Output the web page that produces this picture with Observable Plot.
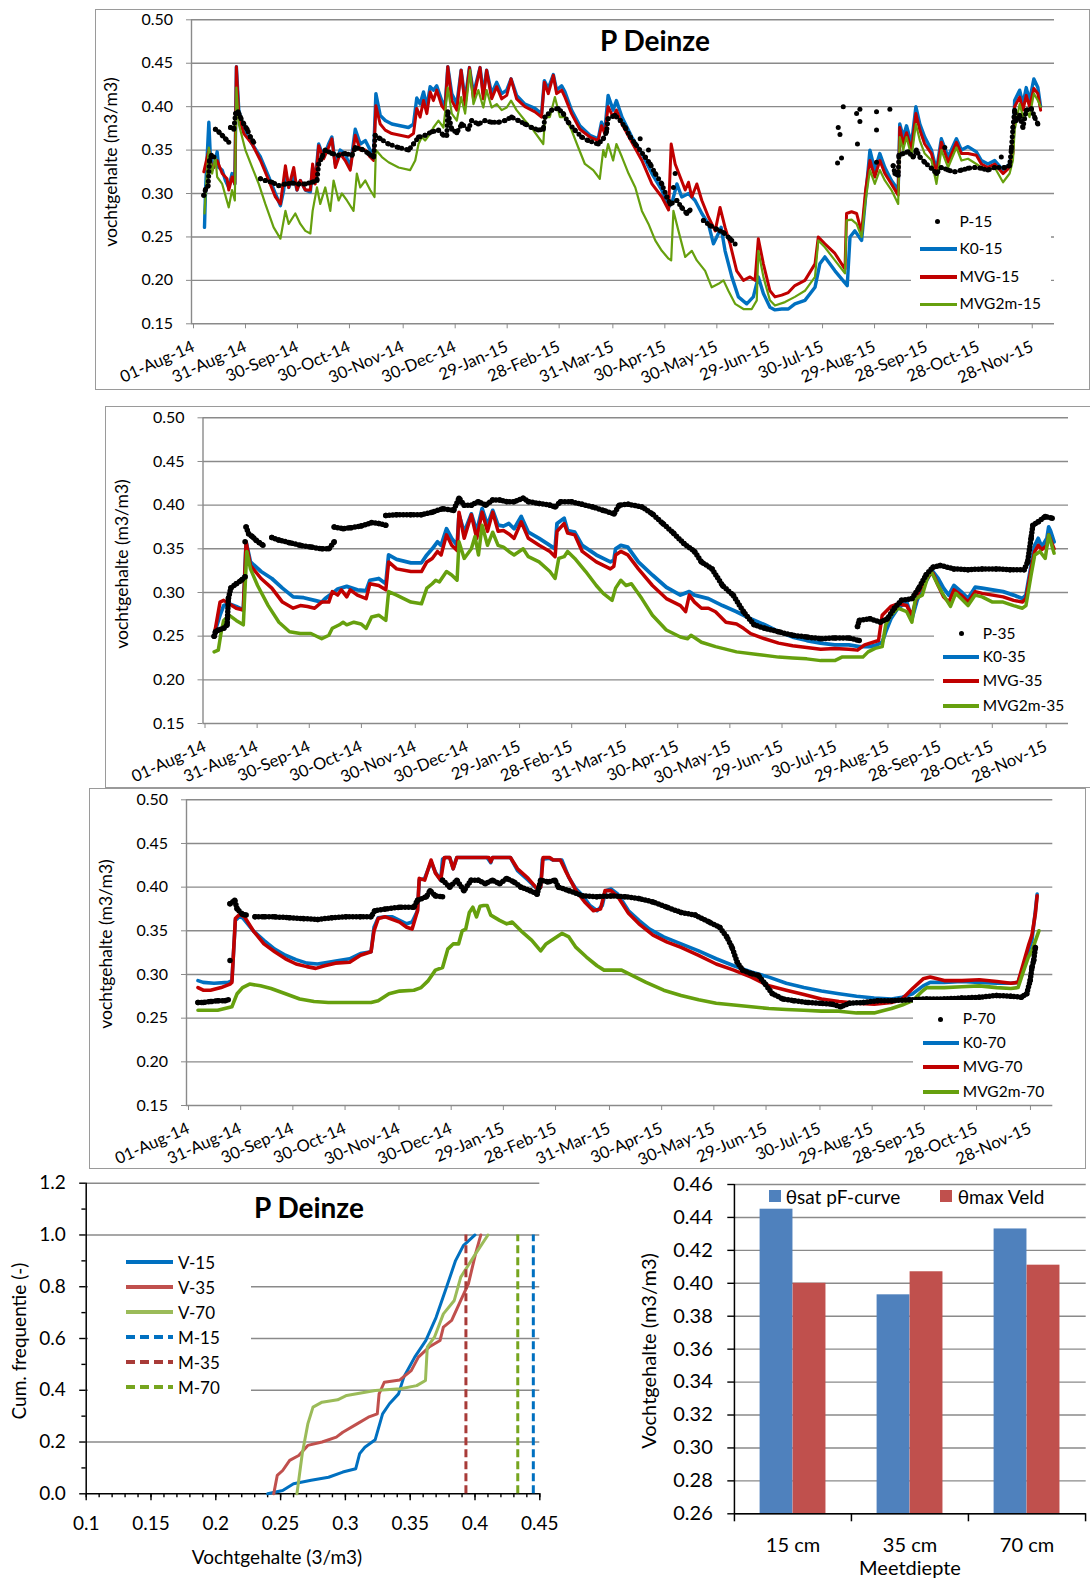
<!DOCTYPE html>
<html><head><meta charset="utf-8">
<script src="https://cdn.jsdelivr.net/npm/d3@7"></script>
<script src="https://cdn.jsdelivr.net/npm/@observablehq/plot@0.6"></script>
<style>
body{margin:0;background:#fff;}
#root{position:relative;width:1090px;height:1580px;overflow:hidden;font-family:Lato,sans-serif;color:#000;background:#fff;}
.box{position:absolute;border:1.5px solid #9a9a9a;box-sizing:border-box;}
.t{position:absolute;transform:translate(-50%,-50%);white-space:nowrap;line-height:1;}
.tl{position:absolute;transform:translate(0,-50%);white-space:nowrap;line-height:1;}
.rot{position:absolute;transform:translate(-50%,-50%) rotate(-90deg);white-space:nowrap;line-height:1;}
.leg{position:absolute;background:#fff;}
.sw{position:absolute;}
</style></head><body><div id="root"></div>
<script>
// ---------------- DATA ----------------
// time series: [days since 01-Aug-2014, value]; null = gap in measured series
const xTickLabels = ["01-Aug-14","31-Aug-14","30-Sep-14","30-Oct-14","30-Nov-14","30-Dec-14","29-Jan-15","28-Feb-15","31-Mar-15","30-Apr-15","30-May-15","29-Jun-15","30-Jul-15","29-Aug-15","28-Sep-15","28-Oct-15","28-Nov-15"];
const yTicksTS = [0.15,0.20,0.25,0.30,0.35,0.40,0.45,0.50];

const k0_15 = [[7.5,0.261],[8.1,0.304],[10.0,0.382],[10.9,0.342],[12.9,0.330],[14.8,0.348],[15.7,0.330],[17.7,0.327],[19.6,0.315],[21.5,0.307],[23.4,0.323],[25.0,0.311],[25.9,0.446],[27.3,0.396],[30.2,0.373],[35.0,0.357],[39.8,0.342],[44.6,0.319],[48.4,0.300],[51.3,0.286],[53.2,0.304],[54.2,0.325],[56.1,0.307],[59.0,0.320],[60.9,0.304],[62.8,0.315],[65.7,0.304],[68.6,0.302],[69.9,0.330],[71.4,0.315],[73.4,0.357],[76.2,0.342],[79.1,0.357],[81.0,0.365],[83.0,0.334],[85.8,0.350],[88.7,0.346],[91.6,0.330],[94.5,0.374],[97.4,0.357],[100.3,0.361],[103.1,0.350],[105.1,0.346],[106.4,0.415],[108.9,0.390],[111.8,0.384],[115.6,0.380],[120.4,0.378],[125.2,0.376],[128.1,0.380],[130.0,0.410],[131.9,0.403],[133.9,0.417],[135.8,0.400],[137.7,0.423],[139.6,0.419],[141.5,0.424],[144.4,0.407],[146.3,0.400],[147.9,0.446],[150.2,0.415],[153.1,0.403],[155.6,0.442],[157.9,0.407],[160.4,0.445],[162.7,0.415],[166.5,0.445],[168.4,0.415],[170.3,0.442],[173.2,0.415],[176.1,0.428],[179.0,0.415],[181.9,0.419],[184.4,0.432],[187.6,0.413],[192.4,0.403],[198.2,0.398],[202.0,0.392],[203.6,0.430],[205.9,0.421],[208.8,0.437],[210.7,0.419],[213.6,0.424],[215.5,0.417],[219.3,0.396],[224.1,0.378],[229.9,0.367],[234.7,0.363],[236.6,0.382],[238.5,0.372],[240.4,0.413],[243.3,0.396],[245.2,0.407],[248.4,0.388],[254.1,0.365],[259.9,0.346],[265.7,0.323],[271.4,0.304],[275.3,0.284],[277.6,0.292],[280.1,0.311],[282.9,0.296],[286.8,0.300],[290.6,0.292],[294.5,0.277],[298.3,0.265],[301.2,0.242],[303.1,0.250],[305.6,0.261],[307.9,0.234],[311.8,0.204],[315.6,0.181],[320.4,0.173],[324.2,0.181],[327.1,0.204],[330.0,0.185],[333.8,0.169],[336.7,0.166],[340.6,0.167],[344.4,0.167],[348.2,0.173],[354.0,0.177],[359.8,0.192],[362.6,0.219],[365.5,0.227],[371.3,0.211],[378.4,0.194],[380.0,0.250],[382.8,0.257],[386.7,0.246],[389.0,0.296],[391.5,0.350],[394.3,0.327],[397.2,0.346],[400.1,0.330],[403.9,0.315],[407.8,0.304],[408.7,0.380],[410.7,0.365],[412.6,0.378],[415.5,0.357],[418.0,0.400],[420.3,0.380],[423.1,0.365],[427.0,0.350],[429.9,0.327],[432.7,0.363],[436.6,0.342],[441.4,0.363],[444.3,0.350],[448.1,0.354],[452.9,0.348],[455.8,0.338],[459.6,0.334],[463.5,0.338],[468.3,0.327],[472.1,0.334],[474.0,0.350],[475.0,0.407],[477.9,0.419],[479.8,0.403],[481.7,0.422],[483.6,0.407],[486.1,0.432],[488.4,0.422],[490.0,0.400]];
const mvg_15 = [[7.1,0.325],[10.0,0.350],[11.9,0.327],[14.8,0.338],[17.7,0.323],[20.5,0.317],[21.5,0.304],[23.4,0.319],[25.0,0.311],[25.9,0.446],[27.3,0.388],[30.2,0.369],[35.0,0.357],[39.8,0.338],[44.6,0.315],[48.4,0.296],[51.3,0.288],[54.2,0.332],[56.1,0.307],[59.0,0.330],[60.9,0.304],[62.8,0.315],[65.7,0.304],[68.6,0.304],[69.9,0.334],[71.4,0.311],[73.4,0.355],[76.2,0.340],[79.1,0.353],[81.0,0.363],[83.0,0.330],[85.8,0.346],[88.7,0.338],[91.6,0.327],[94.5,0.367],[97.4,0.350],[100.3,0.350],[103.1,0.342],[105.1,0.338],[106.4,0.401],[108.9,0.380],[111.8,0.373],[115.6,0.369],[120.4,0.367],[125.2,0.365],[128.1,0.369],[130.0,0.398],[131.9,0.388],[133.9,0.407],[135.8,0.392],[137.7,0.417],[139.6,0.407],[141.5,0.419],[144.4,0.401],[146.3,0.396],[147.9,0.446],[150.2,0.407],[153.1,0.396],[155.6,0.442],[157.9,0.401],[160.4,0.445],[162.7,0.409],[166.5,0.445],[168.4,0.409],[170.3,0.442],[173.2,0.409],[176.1,0.423],[179.0,0.409],[181.9,0.413],[184.4,0.432],[187.6,0.409],[192.4,0.400],[198.2,0.394],[202.0,0.388],[203.6,0.428],[205.9,0.415],[208.8,0.436],[210.7,0.415],[213.6,0.419],[215.5,0.411],[219.3,0.392],[224.1,0.374],[229.9,0.365],[234.7,0.361],[236.6,0.378],[238.5,0.369],[240.4,0.400],[243.3,0.388],[245.2,0.396],[248.4,0.380],[254.1,0.359],[259.9,0.338],[265.7,0.311],[271.4,0.296],[275.3,0.281],[276.8,0.357],[279.1,0.334],[282.0,0.319],[284.9,0.304],[286.8,0.313],[288.7,0.296],[291.6,0.311],[294.5,0.292],[298.3,0.273],[302.2,0.257],[305.0,0.284],[307.9,0.261],[310.8,0.242],[314.6,0.211],[318.5,0.200],[322.3,0.204],[325.2,0.200],[327.1,0.248],[330.0,0.219],[333.8,0.188],[336.7,0.181],[340.6,0.183],[344.4,0.186],[348.2,0.194],[354.0,0.200],[359.8,0.219],[361.7,0.250],[365.5,0.242],[371.3,0.231],[377.1,0.213],[378.0,0.277],[380.9,0.279],[383.8,0.277],[386.7,0.255],[389.0,0.304],[391.5,0.338],[394.3,0.319],[397.2,0.338],[400.1,0.323],[403.9,0.311],[407.8,0.298],[408.7,0.376],[410.7,0.357],[412.6,0.370],[415.5,0.350],[418.0,0.392],[420.3,0.373],[423.1,0.357],[427.0,0.346],[429.9,0.323],[432.7,0.359],[436.6,0.336],[441.4,0.359],[444.3,0.346],[448.1,0.346],[452.9,0.344],[455.8,0.334],[459.6,0.330],[463.5,0.334],[468.3,0.323],[472.1,0.330],[474.0,0.346],[475.0,0.400],[477.9,0.411],[479.8,0.396],[481.7,0.413],[483.6,0.400],[486.1,0.421],[488.4,0.415],[490.0,0.396]];
const mvg2m_15 = [[7.5,0.277],[8.5,0.311],[10.0,0.353],[11.9,0.323],[13.8,0.342],[14.8,0.319],[17.7,0.311],[21.5,0.284],[23.4,0.304],[25.0,0.292],[25.9,0.422],[27.3,0.380],[31.1,0.350],[35.0,0.330],[38.8,0.311],[42.6,0.288],[47.4,0.261],[51.3,0.248],[54.2,0.280],[56.1,0.265],[59.9,0.277],[62.8,0.265],[65.7,0.257],[68.6,0.254],[69.9,0.280],[72.4,0.307],[74.3,0.288],[77.2,0.307],[80.1,0.280],[82.0,0.315],[84.9,0.292],[86.8,0.300],[89.7,0.292],[93.5,0.280],[95.4,0.323],[97.4,0.307],[100.3,0.315],[103.1,0.304],[105.6,0.296],[106.4,0.350],[109.9,0.342],[113.7,0.336],[119.5,0.330],[126.2,0.327],[129.1,0.338],[131.0,0.357],[132.9,0.365],[134.8,0.361],[137.7,0.369],[139.6,0.376],[142.5,0.384],[145.4,0.376],[147.9,0.422],[150.2,0.392],[153.1,0.384],[155.6,0.411],[157.9,0.392],[160.7,0.442],[162.7,0.403],[165.5,0.419],[168.4,0.399],[170.3,0.419],[173.2,0.399],[176.1,0.403],[179.0,0.396],[181.9,0.399],[184.4,0.407],[187.6,0.396],[192.4,0.384],[197.2,0.373],[203.0,0.357],[204.0,0.388],[206.8,0.388],[209.7,0.411],[212.6,0.388],[215.5,0.388],[219.3,0.373],[223.2,0.353],[227.0,0.334],[231.8,0.327],[235.6,0.317],[237.6,0.350],[238.9,0.342],[240.4,0.357],[243.3,0.338],[245.2,0.357],[248.4,0.342],[252.2,0.323],[256.1,0.307],[259.9,0.280],[263.7,0.265],[267.6,0.246],[271.4,0.234],[275.3,0.225],[276.8,0.223],[278.1,0.280],[281.0,0.257],[284.9,0.227],[288.7,0.234],[291.6,0.223],[296.4,0.211],[300.2,0.192],[304.1,0.196],[307.0,0.200],[309.8,0.188],[313.7,0.173],[318.5,0.167],[323.3,0.167],[326.2,0.177],[327.1,0.234],[330.0,0.204],[333.8,0.177],[336.7,0.171],[342.5,0.175],[348.2,0.181],[354.0,0.188],[359.8,0.204],[361.7,0.246],[365.5,0.238],[371.3,0.223],[377.1,0.208],[378.0,0.269],[380.9,0.270],[383.8,0.265],[386.7,0.250],[389.0,0.292],[391.5,0.327],[394.3,0.311],[397.2,0.327],[400.1,0.315],[403.9,0.304],[407.8,0.288],[408.7,0.365],[410.7,0.350],[412.6,0.365],[415.5,0.342],[418.0,0.380],[420.3,0.361],[423.1,0.346],[427.0,0.338],[429.9,0.311],[432.7,0.350],[436.6,0.330],[441.4,0.353],[444.3,0.338],[448.1,0.340],[452.9,0.334],[455.8,0.330],[459.6,0.327],[463.5,0.330],[468.3,0.313],[472.1,0.323],[474.0,0.338],[475.0,0.373],[477.9,0.403],[479.8,0.388],[481.7,0.396],[483.6,0.388],[486.1,0.415],[488.4,0.407],[490.0,0.400]];
const p_15 = [[7.1,0.298],[8.1,0.305],[9.6,0.309],[10.4,0.338],[11.5,0.344],[12.9,0.342],null,[13.8,0.374],[15.7,0.371],[17.7,0.367],[19.6,0.363],[21.5,0.359],null,[22.5,0.376],[24.4,0.374],[25.4,0.392],[26.9,0.394],[28.2,0.388],[30.2,0.380],[32.1,0.374],[34.0,0.365],[35.9,0.359],null,[39.8,0.317],[42.6,0.315],[46.5,0.313],[50.3,0.309],[54.2,0.311],[58.0,0.312],[61.8,0.311],[65.7,0.311],[69.5,0.313],[72.4,0.315],[73.4,0.334],[75.3,0.342],[77.2,0.350],[81.0,0.346],[84.9,0.344],[88.7,0.346],[92.6,0.344],[94.5,0.353],[98.3,0.351],[102.2,0.346],[105.1,0.342],[106.0,0.367],[108.9,0.363],[113.7,0.357],[119.5,0.353],[125.2,0.350],[128.1,0.357],[131.0,0.365],[134.8,0.367],[138.7,0.371],[142.5,0.373],[145.4,0.367],[147.3,0.367],[147.9,0.394],[150.2,0.374],[153.1,0.370],[155.9,0.380],[159.8,0.374],[161.7,0.384],[165.5,0.380],[169.4,0.384],[173.2,0.382],[177.1,0.382],[180.9,0.384],[184.7,0.388],[188.6,0.384],[192.4,0.380],[196.3,0.376],[200.1,0.373],[203.0,0.374],[204.0,0.388],[207.8,0.396],[211.6,0.398],[214.5,0.392],[217.4,0.382],[221.2,0.373],[225.1,0.365],[228.9,0.361],[234.7,0.357],[237.6,0.363],[239.5,0.371],[240.4,0.386],[244.3,0.390],[247.4,0.384],[250.3,0.376],[253.2,0.365],[256.1,0.357],[261.8,0.342],[264.7,0.334],[267.6,0.323],[271.4,0.311],[274.3,0.296],[276.3,0.288],[280.1,0.292],[282.9,0.284],[285.8,0.277],[287.7,0.281],null,[295.4,0.269],[299.3,0.263],[303.1,0.259],[307.0,0.255],[310.8,0.248],[313.7,0.242],null,[404.9,0.332],[405.9,0.323],[407.8,0.321],[408.2,0.344],[410.7,0.346],[413.5,0.348],[416.4,0.342],[418.3,0.350],[420.3,0.342],[423.1,0.336],[427.0,0.329],[429.9,0.323],[432.7,0.330],[436.6,0.327],[440.4,0.325],[444.3,0.327],[448.1,0.329],[452.0,0.330],[455.8,0.329],[459.6,0.327],[463.5,0.330],[469.2,0.330],[472.1,0.332],[473.1,0.351],[474.0,0.376],[475.0,0.396],[476.0,0.384],[477.9,0.390],[479.8,0.376],[481.7,0.396],[484.6,0.398],[486.5,0.388],[488.4,0.380]];
const p_15_single = [[258.9,0.363],[263.7,0.350],[278.1,0.307],[279.1,0.323],[372.8,0.335],[373.2,0.376],[374.2,0.368],[375.1,0.341],[376.1,0.400],[383.8,0.392],[385.7,0.397],[385.7,0.383],[384.3,0.357],[395.3,0.394],[395.3,0.373],[403.0,0.397],[395.3,0.336],[434.7,0.353],[467.3,0.342]];

const k0_35 = [[6.8,0.255],[9.8,0.274],[11.9,0.285],[15.0,0.287],[19.1,0.284],[23.2,0.280],[24.8,0.358],[27.3,0.335],[33.4,0.324],[39.6,0.316],[45.7,0.305],[51.9,0.295],[58.0,0.294],[64.2,0.291],[68.3,0.289],[70.3,0.293],[74.4,0.299],[77.5,0.304],[82.7,0.307],[88.8,0.303],[93.9,0.302],[96.0,0.314],[101.1,0.316],[105.2,0.310],[106.8,0.343],[111.4,0.338],[119.6,0.334],[125.7,0.334],[128.8,0.343],[131.9,0.350],[134.9,0.358],[137.0,0.354],[140.1,0.373],[143.1,0.362],[146.2,0.354],[147.3,0.389],[150.3,0.369],[154.4,0.390],[157.5,0.370],[160.6,0.396],[163.7,0.377],[166.7,0.394],[169.8,0.377],[172.9,0.376],[176.0,0.379],[179.0,0.373],[183.1,0.387],[187.2,0.369],[193.4,0.362],[199.6,0.354],[202.6,0.350],[203.7,0.379],[207.8,0.385],[209.8,0.371],[213.9,0.369],[218.2,0.354],[226.3,0.343],[234.4,0.335],[236.4,0.337],[237.4,0.350],[240.4,0.354],[244.4,0.352],[250.5,0.335],[258.6,0.320],[266.6,0.306],[274.7,0.297],[279.8,0.301],[282.8,0.297],[290.8,0.293],[298.9,0.285],[307.0,0.278],[315.1,0.270],[323.2,0.263],[331.2,0.255],[339.3,0.249],[347.4,0.245],[355.4,0.242],[363.5,0.240],[371.6,0.240],[377.6,0.238],[383.7,0.238],[387.7,0.240],[390.8,0.243],[392.8,0.255],[395.8,0.270],[399.8,0.282],[404.9,0.289],[407.9,0.270],[410.9,0.291],[413.9,0.305],[418.0,0.320],[420.0,0.324],[423.0,0.316],[426.1,0.305],[429.1,0.297],[432.1,0.308],[436.2,0.301],[440.2,0.293],[444.3,0.306],[448.3,0.305],[454.3,0.303],[460.4,0.301],[466.4,0.297],[471.5,0.293],[473.5,0.297],[476.5,0.331],[478.6,0.354],[480.6,0.362],[482.6,0.352],[485.6,0.362],[486.6,0.375],[487.6,0.371],[489.7,0.358]];
const mvg_35 = [[6.8,0.255],[9.8,0.289],[11.9,0.291],[15.0,0.287],[19.1,0.282],[23.2,0.280],[24.8,0.358],[27.3,0.331],[33.4,0.316],[39.6,0.305],[45.7,0.289],[51.9,0.282],[56.0,0.285],[60.1,0.284],[64.2,0.282],[68.3,0.289],[72.4,0.289],[74.4,0.301],[77.5,0.297],[79.6,0.303],[82.7,0.295],[84.7,0.303],[88.8,0.297],[93.9,0.293],[96.0,0.310],[101.1,0.308],[105.2,0.303],[106.8,0.335],[111.4,0.327],[119.6,0.324],[125.7,0.324],[128.8,0.335],[131.9,0.339],[134.9,0.347],[137.0,0.343],[140.1,0.366],[143.1,0.354],[146.2,0.348],[147.3,0.392],[150.3,0.362],[154.4,0.389],[157.5,0.362],[160.6,0.392],[163.7,0.370],[166.7,0.392],[169.8,0.370],[172.9,0.371],[176.0,0.367],[179.0,0.362],[183.1,0.381],[187.2,0.362],[193.4,0.354],[199.6,0.347],[202.6,0.341],[203.7,0.370],[207.8,0.379],[209.8,0.368],[213.9,0.366],[218.2,0.347],[226.3,0.335],[234.4,0.327],[236.4,0.330],[237.4,0.343],[240.4,0.347],[244.4,0.343],[250.5,0.327],[258.6,0.308],[266.6,0.293],[274.7,0.285],[277.7,0.278],[279.8,0.297],[282.8,0.289],[286.8,0.282],[290.8,0.282],[294.9,0.278],[300.9,0.266],[307.0,0.264],[311.0,0.259],[315.1,0.253],[323.2,0.247],[331.2,0.242],[339.3,0.239],[347.4,0.237],[355.4,0.235],[363.5,0.236],[371.6,0.235],[376.6,0.234],[380.7,0.240],[388.7,0.245],[390.8,0.274],[392.8,0.278],[395.8,0.284],[399.8,0.287],[404.9,0.285],[407.9,0.274],[410.9,0.297],[413.9,0.308],[418.0,0.320],[420.0,0.322],[423.0,0.308],[426.1,0.295],[429.1,0.289],[432.1,0.303],[436.2,0.297],[440.2,0.289],[444.3,0.301],[448.3,0.299],[454.3,0.297],[460.4,0.295],[466.4,0.291],[471.5,0.289],[473.5,0.293],[476.5,0.327],[478.6,0.347],[480.6,0.354],[482.6,0.349],[485.6,0.354],[486.6,0.366],[489.7,0.350]];
const mvg2m_35 = [[6.4,0.232],[8.8,0.234],[10.5,0.255],[11.9,0.268],[15.0,0.274],[19.1,0.268],[23.2,0.263],[25.2,0.347],[27.3,0.327],[31.4,0.308],[37.5,0.285],[43.7,0.266],[49.8,0.255],[56.0,0.253],[62.1,0.253],[68.3,0.247],[72.4,0.251],[74.4,0.259],[78.5,0.263],[80.6,0.266],[82.7,0.263],[86.8,0.266],[90.9,0.264],[93.9,0.259],[97.0,0.272],[101.1,0.274],[105.2,0.268],[106.8,0.301],[111.4,0.297],[119.6,0.289],[125.7,0.287],[128.8,0.305],[131.9,0.310],[133.9,0.314],[136.0,0.312],[140.1,0.324],[143.1,0.320],[146.2,0.314],[147.3,0.358],[150.3,0.339],[154.4,0.350],[156.5,0.364],[158.5,0.343],[160.6,0.377],[163.7,0.354],[166.7,0.369],[169.8,0.354],[172.9,0.352],[176.0,0.347],[179.0,0.343],[184.2,0.350],[187.2,0.341],[193.4,0.335],[199.6,0.324],[202.6,0.316],[204.7,0.339],[207.8,0.341],[209.8,0.347],[213.9,0.339],[220.2,0.324],[226.3,0.308],[230.3,0.299],[235.4,0.291],[237.4,0.305],[240.4,0.314],[243.4,0.308],[246.5,0.310],[252.5,0.293],[258.6,0.274],[266.6,0.257],[274.7,0.249],[278.8,0.247],[280.8,0.251],[286.8,0.243],[294.9,0.238],[307.0,0.232],[319.1,0.229],[331.2,0.226],[339.3,0.225],[347.4,0.224],[355.4,0.222],[363.5,0.222],[367.6,0.226],[379.7,0.226],[382.7,0.232],[386.7,0.236],[390.8,0.238],[392.8,0.263],[395.8,0.274],[399.8,0.282],[404.9,0.278],[407.9,0.266],[409.9,0.293],[413.9,0.297],[417.0,0.318],[419.0,0.324],[423.0,0.308],[426.1,0.297],[430.1,0.284],[433.1,0.299],[436.2,0.293],[440.2,0.285],[444.3,0.297],[448.3,0.295],[454.3,0.289],[460.4,0.289],[466.4,0.285],[471.5,0.282],[473.5,0.285],[476.5,0.320],[478.6,0.343],[481.6,0.347],[484.6,0.339],[486.6,0.366],[489.7,0.345]];
const p_35 = [[6.4,0.250],[7.2,0.255],[8.8,0.257],[11.9,0.259],[13.9,0.263],[14.6,0.293],[16.0,0.305],[19.1,0.310],[22.1,0.314],[24.2,0.318],null,[24.8,0.375],[26.3,0.367],[28.3,0.364],[30.4,0.360],[32.4,0.357],[34.5,0.354],null,[39.6,0.363],[43.7,0.360],[49.8,0.357],[56.0,0.354],[62.1,0.352],[68.3,0.350],[72.4,0.350],[75.5,0.358],null,[75.5,0.375],[80.6,0.373],[84.7,0.374],[90.9,0.376],[97.0,0.380],[101.1,0.379],[105.2,0.377],null,[105.2,0.388],[111.4,0.389],[119.6,0.389],[125.7,0.389],[131.9,0.392],[138.0,0.396],[144.2,0.394],[147.3,0.408],[150.3,0.400],[154.4,0.400],[158.5,0.404],[162.6,0.400],[166.7,0.406],[170.8,0.406],[174.9,0.404],[179.0,0.404],[184.2,0.408],[187.2,0.404],[193.4,0.402],[199.6,0.400],[202.6,0.398],[205.7,0.404],[211.9,0.404],[218.0,0.401],[224.2,0.398],[230.3,0.394],[236.5,0.390],[239.5,0.400],[244.7,0.401],[252.5,0.398],[258.6,0.390],[264.6,0.379],[270.7,0.368],[276.7,0.356],[282.8,0.347],[286.8,0.335],[292.9,0.327],[298.9,0.308],[305.0,0.297],[311.0,0.278],[317.1,0.263],[323.2,0.259],[331.2,0.255],[339.3,0.251],[347.4,0.249],[355.4,0.247],[363.5,0.248],[371.6,0.248],[377.6,0.245],null,[376.6,0.261],[377.6,0.268],[383.7,0.270],[389.8,0.266],[393.8,0.270],[397.8,0.282],[401.9,0.291],[407.9,0.293],[411.9,0.305],[416.0,0.320],[420.0,0.329],[424.1,0.331],[432.1,0.327],[440.2,0.326],[448.3,0.327],[456.4,0.327],[464.4,0.326],[472.5,0.326],[474.5,0.335],[477.5,0.377],[480.6,0.381],[484.6,0.387],[488.6,0.385]];
const p_35_single = [[24.2,0.358],[476.5,0.362]];

const k0_70 = [[6.6,0.293],[9.6,0.291],[15.8,0.290],[24.0,0.291],[26.1,0.293],[28.1,0.362],[30.2,0.366],[32.2,0.365],[38.4,0.350],[44.5,0.339],[50.7,0.329],[56.9,0.322],[63.0,0.317],[69.2,0.313],[75.3,0.312],[81.5,0.314],[87.6,0.316],[93.8,0.318],[100.0,0.324],[106.1,0.326],[107.8,0.354],[110.2,0.365],[114.3,0.366],[118.4,0.366],[122.5,0.362],[126.6,0.358],[129.7,0.360],[132.8,0.373],[133.8,0.408],[136.9,0.410],[140.6,0.429],[143.1,0.417],[146.1,0.408],[147.2,0.432],[149.2,0.434],[151.3,0.434],[153.3,0.421],[155.4,0.434],[158.5,0.434],[167.7,0.434],[172.8,0.434],[174.9,0.428],[175.9,0.434],[186.2,0.434],[190.3,0.419],[196.4,0.408],[201.6,0.398],[203.6,0.400],[204.6,0.432],[208.7,0.433],[210.8,0.431],[215.8,0.431],[219.8,0.411],[223.9,0.398],[227.9,0.390],[231.9,0.379],[236.0,0.373],[239.0,0.379],[241.0,0.396],[244.0,0.398],[248.0,0.392],[254.1,0.373],[260.1,0.362],[266.2,0.352],[274.3,0.343],[284.3,0.335],[294.4,0.327],[304.5,0.318],[314.6,0.310],[324.7,0.303],[334.8,0.297],[344.8,0.290],[354.9,0.285],[365.0,0.281],[375.1,0.278],[385.2,0.275],[395.3,0.273],[405.3,0.272],[411.4,0.274],[417.4,0.278],[423.5,0.287],[427.5,0.291],[435.6,0.291],[445.7,0.292],[455.8,0.291],[465.8,0.290],[473.9,0.290],[478.0,0.291],[481.0,0.308],[484.0,0.327],[486.0,0.339],[488.0,0.373],[489.0,0.392]];
const mvg_70 = [[6.6,0.285],[9.6,0.282],[13.8,0.282],[19.9,0.285],[25.0,0.289],[26.1,0.291],[28.1,0.364],[30.6,0.369],[33.3,0.366],[38.4,0.350],[44.5,0.335],[50.7,0.326],[56.9,0.318],[63.0,0.312],[69.2,0.309],[74.3,0.307],[79.4,0.310],[85.6,0.313],[93.8,0.314],[100.0,0.322],[106.1,0.326],[107.8,0.350],[110.2,0.364],[114.3,0.366],[122.5,0.360],[126.6,0.354],[129.7,0.352],[132.8,0.373],[133.8,0.410],[136.9,0.408],[140.6,0.431],[143.1,0.416],[146.1,0.408],[148.2,0.434],[151.3,0.434],[153.3,0.421],[155.4,0.434],[159.5,0.434],[167.7,0.434],[173.8,0.434],[174.9,0.429],[176.0,0.434],[186.2,0.434],[190.3,0.421],[196.4,0.410],[201.6,0.398],[203.6,0.400],[205.0,0.434],[208.7,0.434],[210.8,0.431],[214.9,0.431],[217.8,0.419],[223.9,0.396],[228.9,0.383],[233.9,0.373],[238.0,0.375],[240.6,0.396],[244.0,0.396],[248.0,0.389],[254.1,0.370],[260.1,0.358],[268.2,0.345],[276.3,0.337],[284.3,0.331],[294.4,0.322],[304.5,0.312],[314.6,0.305],[324.7,0.297],[334.8,0.287],[344.8,0.282],[354.9,0.277],[365.0,0.272],[375.1,0.269],[385.2,0.267],[395.3,0.266],[405.3,0.268],[411.4,0.272],[417.4,0.284],[423.5,0.295],[427.5,0.297],[435.6,0.293],[445.7,0.293],[455.8,0.294],[465.8,0.292],[473.9,0.290],[478.0,0.291],[481.0,0.312],[484.0,0.333],[486.0,0.345],[488.0,0.370],[489.0,0.390]];
const mvg2m_70 = [[6.6,0.259],[11.7,0.259],[17.9,0.259],[22.0,0.261],[26.1,0.263],[29.1,0.278],[32.2,0.285],[36.3,0.289],[42.5,0.287],[48.6,0.284],[56.9,0.278],[65.1,0.272],[73.3,0.269],[81.5,0.268],[89.7,0.268],[97.9,0.268],[106.1,0.268],[110.2,0.270],[116.4,0.278],[122.5,0.281],[130.7,0.282],[134.9,0.285],[139.0,0.293],[143.1,0.305],[147.2,0.308],[150.2,0.329],[153.3,0.335],[156.4,0.335],[158.5,0.350],[160.5,0.352],[162.6,0.371],[164.6,0.377],[166.7,0.366],[168.7,0.378],[170.8,0.379],[172.8,0.379],[174.9,0.368],[180.0,0.362],[184.1,0.358],[187.2,0.360],[192.3,0.350],[198.5,0.339],[203.6,0.327],[206.7,0.335],[209.7,0.339],[215.8,0.347],[219.8,0.343],[223.9,0.331],[229.9,0.320],[236.0,0.310],[240.0,0.305],[250.1,0.305],[256.1,0.299],[264.2,0.291],[274.3,0.282],[284.3,0.276],[294.4,0.271],[304.5,0.267],[314.6,0.265],[324.7,0.263],[334.8,0.261],[344.8,0.260],[354.9,0.259],[365.0,0.258],[375.1,0.258],[385.2,0.256],[395.3,0.256],[401.3,0.259],[405.3,0.261],[411.4,0.265],[417.4,0.270],[422.5,0.280],[425.5,0.285],[435.6,0.285],[445.7,0.286],[455.8,0.287],[465.8,0.285],[473.9,0.284],[478.0,0.285],[481.0,0.303],[484.0,0.320],[486.0,0.327],[490.0,0.350]];
const p_70 = [[6.6,0.268],[9.6,0.268],[13.8,0.269],[17.9,0.270],[22.0,0.270],[24.0,0.271],null,[25.0,0.381],[27.7,0.385],[29.1,0.375],[32.2,0.369],[34.3,0.368],null,[39.4,0.366],[44.5,0.366],[50.7,0.366],[58.9,0.365],[67.1,0.364],[75.3,0.363],[83.5,0.365],[91.7,0.366],[100.0,0.366],[106.1,0.366],[108.2,0.373],[114.3,0.375],[122.5,0.377],[130.7,0.377],[132.8,0.385],[137.9,0.389],[140.0,0.396],[143.1,0.390],[147.2,0.389],null,[147.2,0.408],[151.3,0.400],[155.4,0.408],[159.5,0.396],[163.6,0.408],[167.7,0.408],[171.8,0.404],[175.9,0.408],[180.0,0.404],[184.1,0.410],[188.2,0.406],[192.3,0.400],[197.5,0.396],[201.6,0.392],[203.6,0.408],[207.7,0.406],[211.8,0.408],[213.8,0.400],[219.8,0.396],[227.9,0.390],[236.0,0.389],[244.0,0.390],[252.1,0.389],[260.1,0.387],[268.2,0.383],[276.3,0.377],[284.3,0.371],[292.4,0.368],[300.5,0.360],[306.5,0.354],[310.6,0.343],[313.6,0.331],[316.6,0.314],[319.6,0.305],[324.7,0.301],[328.7,0.299],[332.7,0.289],[336.8,0.278],[342.8,0.272],[348.9,0.270],[357.0,0.268],[365.0,0.267],[371.1,0.266],[376.1,0.263],[381.1,0.267],[389.2,0.268],[397.3,0.270],[405.3,0.270],[415.4,0.271],[425.5,0.272],[435.6,0.272],[445.7,0.273],[455.8,0.274],[465.8,0.276],[473.9,0.275],[480.0,0.274],[483.0,0.278],[485.0,0.293],[486.0,0.308],[487.0,0.316],[488.0,0.331]];
const p_70_single = [[25.0,0.316]];

// cumulative frequency curves: [vochtgehalte, cum. frequentie]
const v15 = [[0.240,0],[0.2516,0.013],[0.260,0.039],[0.2736,0.052],[0.287,0.064],[0.298,0.084],[0.308,0.097],[0.311,0.155],[0.315,0.180],[0.323,0.209],[0.3287,0.309],[0.334,0.348],[0.341,0.386],[0.345,0.450],[0.3535,0.528],[0.362,0.592],[0.370,0.682],[0.378,0.798],[0.385,0.901],[0.391,0.959],[0.400,1.0]];
const v35 = [[0.2447,0],[0.2474,0.071],[0.2516,0.090],[0.257,0.129],[0.264,0.148],[0.271,0.187],[0.282,0.200],[0.293,0.219],[0.298,0.238],[0.309,0.270],[0.3177,0.296],[0.3246,0.309],[0.326,0.386],[0.330,0.431],[0.342,0.440],[0.3508,0.476],[0.3563,0.528],[0.3646,0.567],[0.373,0.592],[0.3756,0.644],[0.382,0.670],[0.389,0.747],[0.3949,0.811],[0.4004,0.927],[0.4045,1.0]];
const v70 = [[0.2626,0],[0.2667,0.155],[0.271,0.270],[0.275,0.335],[0.282,0.354],[0.294,0.363],[0.301,0.380],[0.323,0.399],[0.3425,0.406],[0.355,0.418],[0.3618,0.438],[0.3632,0.567],[0.3687,0.605],[0.3756,0.695],[0.384,0.747],[0.389,0.837],[0.4004,0.927],[0.410,1.0]];

// bar chart
const depths = ["15 cm","35 cm","70 cm"];
const thetaSat = [0.445, 0.393, 0.433];   // θsat pF-curve (also M-15, M-35, M-70)
const thetaMax = [0.400, 0.407, 0.411];   // θmax Veld
const barSeries = ["θsat pF-curve","θmax Veld"];

// ---------------- STYLE ----------------
const BLUE = "#0070C0", RED = "#C00000", GREEN = "#66A00E", GRID = "#8a8a8a";
const root = document.getElementById("root");
function el(tag, cls, css, text) {
  const e = document.createElement(tag);
  if (cls) e.className = cls;
  Object.assign(e.style, css);
  if (text != null) e.textContent = text;
  root.appendChild(e);
  return e;
}
function px(v){return v+"px";}
function placeSvg(svg, left, top) {
  svg.style.position = "absolute"; svg.style.left = px(left); svg.style.top = px(top);
  root.appendChild(svg);
}

const start = Date.UTC(2014, 7, 1);
const rows = arr => arr.map(e => e ? {date: new Date(start + e[0]*864e5), v: e[1]} : {date: null, v: null});
const tickDates = xTickLabels.map(d3.utcParse("%d-%b-%y"));
const xDomain = [new Date(start), new Date(Date.UTC(2015, 11, 12))];

function tsPlot(c) {
  const [kw, mw, gw] = c.widths;
  return Plot.plot({
    width: c.W, height: c.H, marginLeft: c.ml, marginRight: c.mr, marginTop: c.mt, marginBottom: c.mb,
    style: {background: "transparent", fontFamily: "Lato, sans-serif", fontSize: "16px", color: "#000", overflow: "visible"},
    x: {type: "utc", domain: xDomain, label: null},
    y: {domain: [0.15, 0.5], label: null},
    marks: [
      Plot.gridY(yTicksTS, {stroke: GRID, strokeOpacity: 1, strokeWidth: 1.4}),
      Plot.ruleX([xDomain[0]], {stroke: GRID, strokeWidth: 1.4}),
      Plot.axisY(yTicksTS, {tickFormat: d3.format(".2f"), tickSize: 5, tickPadding: 13.5, stroke: GRID, fontSize: 16, label: null}),
      Plot.axisX(tickDates, {tickFormat: d3.utcFormat("%d-%b-%y"), tickRotate: -24, tickSize: 5, tickPadding: 17, dx: 2, stroke: GRID, fontSize: 16.5, label: null}),
      Plot.line(rows(c.k), {x: "date", y: "v", stroke: BLUE, strokeWidth: kw, strokeLinejoin: "round"}),
      Plot.line(rows(c.m), {x: "date", y: "v", stroke: RED, strokeWidth: mw, strokeLinejoin: "round"}),
      Plot.line(rows(c.g), {x: "date", y: "v", stroke: GREEN, strokeWidth: gw, strokeLinejoin: "round"}),
      Plot.line(rows(c.p), {x: "date", y: "v", stroke: "#000", strokeWidth: c.pw, strokeDasharray: c.dash, strokeLinecap: "round"}),
      Plot.dot(rows(c.p).concat(rows(c.ps)), {x: "date", y: "v", r: c.pw/2, fill: "#000"})
    ]
  });
}

function tsLegend(c) {
  el("div", "leg", {left: px(c.box[0]), top: px(c.box[1]), width: px(c.box[2]), height: px(c.box[3])});
  const items = [
    {label: c.names[0], dot: true},
    {label: c.names[1], color: BLUE, w: c.lw[0]},
    {label: c.names[2], color: RED, w: c.lw[1]},
    {label: c.names[3], color: GREEN, w: c.lw[2]}
  ];
  items.forEach((it, i) => {
    const y = c.ys[i];
    if (it.dot) el("div", "sw", {left: px(c.dotX - 2.5), top: px(y - 2.5), width: "5px", height: "5px", borderRadius: "50%", background: "#000"});
    else el("div", "sw", {left: px(c.lineX[0]), top: px(y - it.w/2), width: px(c.lineX[1]-c.lineX[0]), height: px(it.w), background: it.color});
    el("div", "tl", {left: px(c.textX), top: px(y), fontSize: px(c.fs)}, it.label);
  });
}

// ---------- Panel 1 ----------
el("div", "box", {left: "95px", top: "9px", width: "995px", height: "381px"});
placeSvg(tsPlot({W: 994, H: 379, ml: 95, mr: 36, mt: 9.3, mb: 65.7, k: k0_15, m: mvg_15, g: mvg2m_15, p: p_15, ps: p_15_single, widths: [3.4, 3, 2.2], pw: 5, dash: "0 5"}), 96, 10);
el("div", "t", {left: "655px", top: "40px", fontSize: "28px", fontWeight: "bold"}, "P Deinze");
el("div", "rot", {left: "111px", top: "162px", fontSize: "17.5px"}, "vochtgehalte (m3/m3)");
tsLegend({box: [911, 206, 140, 112], names: ["P-15","K0-15","MVG-15","MVG2m-15"], ys: [221.7, 249.3, 276.7, 304], dotX: 937.5, lineX: [919.6, 957.5], textX: 959.5, lw: [4, 4, 3], fs: 15.5});

// ---------- Panel 2 ----------
el("div", "box", {left: "105px", top: "406px", width: "1000px", height: "382px"});
placeSvg(tsPlot({W: 984, H: 379, ml: 96.5, mr: 22, mt: 10.3, mb: 63, k: k0_35, m: mvg_35, g: mvg2m_35, p: p_35, ps: p_35_single, widths: [3.8, 3.5, 3.5], pw: 5.5, dash: "0 3.5"}), 106, 407);
el("div", "rot", {left: "121.5px", top: "564px", fontSize: "17.5px"}, "vochtgehalte (m3/m3)");
tsLegend({box: [934, 619, 134, 100], names: ["P-35","K0-35","MVG-35","MVG2m-35"], ys: [633.7, 657.3, 681.3, 706.3], dotX: 961, lineX: [942.8, 978.6], textX: 982.8, lw: [4, 4, 4], fs: 15.5});

// ---------- Panel 3 ----------
el("div", "box", {left: "89px", top: "788px", width: "997px", height: "381px"});
placeSvg(tsPlot({W: 995, H: 379, ml: 96, mr: 32.7, mt: 10.3, mb: 63, k: k0_70, m: mvg_70, g: mvg2m_70, p: p_70, ps: p_70_single, widths: [3.6, 3.6, 3.6], pw: 5.5, dash: "0 3.5"}), 90, 789);
el("div", "rot", {left: "105.7px", top: "944px", fontSize: "17.5px"}, "vochtgehalte (m3/m3)");
tsLegend({box: [913, 1000, 140, 102], names: ["P-70","K0-70","MVG-70","MVG2m-70"], ys: [1019, 1043.3, 1067.3, 1091.7], dotX: 940, lineX: [922.5, 959.3], textX: 962.8, lw: [4, 4, 4], fs: 15.5});

// ---------- Panel 4: cumulative frequency ----------
const C_V = ["#0070C0", "#C0504D", "#9BBB59"];
const C_M = ["#0070C0", "#A83B38", "#76A51F"];
const cdfRows = [v15, v35, v70].flatMap((arr, i) => arr.map(([x, y]) => ({s: i, x, y})));
const mRows = thetaSat.map((x, i) => ({s: i, x}));
const cdfPlot = Plot.plot({
  width: 560, height: 408, marginLeft: 85.7, marginRight: 20.7, marginTop: 10.7, marginBottom: 86.7,
  style: {background: "transparent", fontFamily: "Lato, sans-serif", fontSize: "19px", color: "#000", overflow: "visible"},
  x: {domain: [0.1, 0.45], label: null},
  y: {domain: [0, 1.2], label: null},
  marks: [
    Plot.ruleY([0.2, 0.4, 0.6, 0.8, 1.0, 1.2], {stroke: GRID, strokeWidth: 1.4}),
    Plot.axisY([0, 0.2, 0.4, 0.6, 0.8, 1.0, 1.2], {tickFormat: d3.format(".1f"), tickSize: 6.5, tickPadding: 14, stroke: "#000", strokeWidth: 1.4, fontSize: 19, label: null}),
    Plot.axisY([0.1, 0.3, 0.5, 0.7, 0.9, 1.1], {tickFormat: () => "", tickSize: 4.3, stroke: "#000", strokeWidth: 1.4, label: null}),
    Plot.axisX([0.1, 0.15, 0.2, 0.25, 0.3, 0.35, 0.4, 0.45], {tickFormat: d => String(+d.toFixed(2)), tickSize: 7, tickPadding: 16, stroke: "#000", strokeWidth: 1.4, fontSize: 19, label: null}),
    Plot.axisX(d3.range(10, 46).map(d => d / 100), {tickFormat: () => "", tickSize: 4, stroke: "#000", strokeWidth: 1.4, label: null}),
    Plot.ruleX([0.1], {stroke: "#000", strokeWidth: 1.5}),
    Plot.ruleY([0], {stroke: "#000", strokeWidth: 1.5}),
    Plot.line(cdfRows, {x: "x", y: "y", z: "s", stroke: d => C_V[d.s], strokeWidth: 3, strokeLinejoin: "round"}),
    Plot.ruleX(mRows, {x: "x", y1: 0, y2: 1.0, stroke: d => C_M[d.s], strokeWidth: 3, strokeDasharray: "8 4"})
  ]
});
placeSvg(cdfPlot, 0, 1172);
el("div", "t", {left: "309px", top: "1207px", fontSize: "28px", fontWeight: "bold"}, "P Deinze");
el("div", "rot", {left: "18px", top: "1341px", fontSize: "19px"}, "Cum. frequentie (-)");
el("div", "t", {left: "277px", top: "1556px", fontSize: "19px"}, "Vochtgehalte (3/m3)");
{
  el("div", "leg", {left: "88px", top: "1244px", width: "163px", height: "154px"});
  const names = ["V-15","V-35","V-70","M-15","M-35","M-70"];
  const ys = [1261.7, 1286.7, 1311.7, 1336.7, 1361.7, 1386.7];
  names.forEach((n, i) => {
    const col = i < 3 ? C_V[i] : C_M[i - 3];
    if (i < 3) el("div", "sw", {left: "125.7px", top: px(ys[i] - 2), width: "47.5px", height: "4px", background: col});
    else el("div", "sw", {left: "125.7px", top: px(ys[i] - 2), width: "47.5px", height: "4px", background: `repeating-linear-gradient(90deg, ${col} 0 9px, transparent 9px 14px)`});
    el("div", "tl", {left: "178px", top: px(ys[i]), fontSize: "17px"}, n);
  });
}

// ---------- Panel 5: bars ----------
const barRows = depths.flatMap((d, i) => [{depth: d, s: 0, v: thetaSat[i]}, {depth: d, s: 1, v: thetaMax[i]}]);
const yBarTicks = d3.range(26, 47, 2).map(d => d / 100);
const yMin = 0.26;
const bw = (1085.7 - 734.3) / 3;
const barPlotH = 408 - 12 - 66.7;
const barPlot = Plot.plot({
  width: 470, height: 408, marginLeft: 114.3, marginRight: 4.3, marginTop: 12, marginBottom: 66.7,
  style: {background: "transparent", fontFamily: "Lato, sans-serif", fontSize: "19px", color: "#000", overflow: "visible"},
  x: {domain: depths, padding: 0, label: null},
  y: {domain: [yMin, 0.46], label: null},
  marks: [
    Plot.gridY(yBarTicks, {stroke: GRID, strokeOpacity: 1, strokeWidth: 1.4}),
    Plot.barY(barRows.filter(d => d.s === 0), {x: "depth", y1: yMin, y2: "v", fill: "#4F81BD", insetLeft: 25.6, insetRight: bw - 25.6 - 33}),
    Plot.barY(barRows.filter(d => d.s === 1), {x: "depth", y1: yMin, y2: "v", fill: "#C0504D", insetLeft: 25.6 + 33, insetRight: bw - 25.6 - 66}),
    Plot.ruleX([depths[0]], {x: d => d, dx: -bw / 2, stroke: "#000", strokeWidth: 1.5}),
    Plot.ruleY([yMin], {stroke: "#000", strokeWidth: 1.5}),
    Plot.ruleX(depths, {x: d => d, dx: -bw / 2, insetTop: barPlotH, insetBottom: -8, stroke: "#000", strokeWidth: 1.5}),
    Plot.ruleX([depths[2]], {x: d => d, dx: bw / 2, insetTop: barPlotH, insetBottom: -8, stroke: "#000", strokeWidth: 1.5}),
    Plot.axisY(yBarTicks, {tickFormat: d3.format(".2f"), tickSize: 7, tickPadding: 15, stroke: "#000", strokeWidth: 1.4, fontSize: 20, label: null}),
    Plot.axisX(depths, {tickSize: 0, tickPadding: 24, fontSize: 20, label: null})
  ]
});
placeSvg(barPlot, 620, 1172);
el("div", "rot", {left: "648px", top: "1351px", fontSize: "20px"}, "Vochtgehalte (m3/m3)");
el("div", "t", {left: "910px", top: "1567px", fontSize: "20px"}, "Meetdiepte");
el("div", "sw", {left: "769px", top: "1190px", width: "12px", height: "12px", background: "#4F81BD"});
el("div", "tl", {left: "785.7px", top: "1196px", fontSize: "19px"}, barSeries[0]);
el("div", "sw", {left: "940px", top: "1190px", width: "12px", height: "12px", background: "#C0504D"});
el("div", "tl", {left: "957.7px", top: "1196px", fontSize: "19px"}, barSeries[1]);
</script></body></html>
